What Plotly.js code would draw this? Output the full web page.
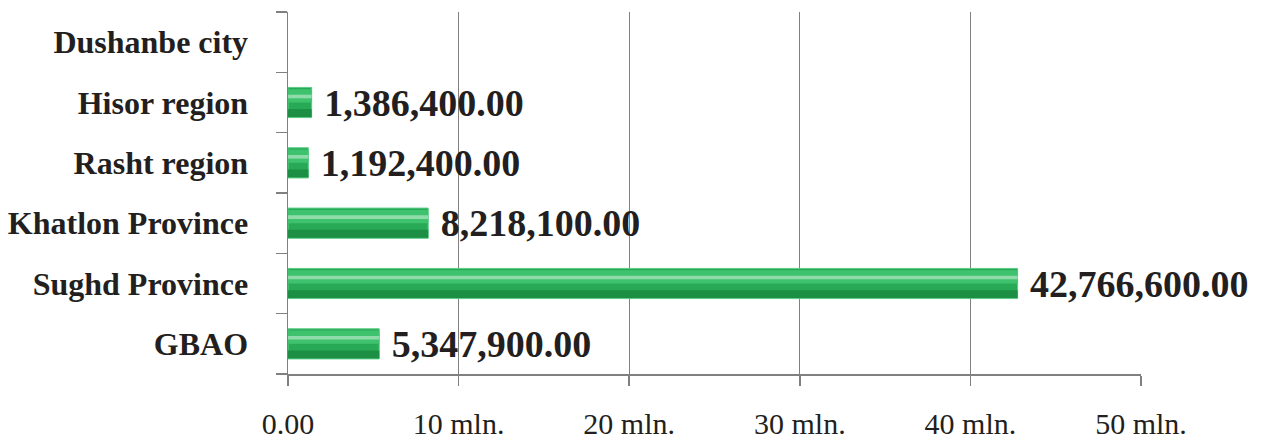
<!DOCTYPE html>
<html>
<head>
<meta charset="utf-8">
<script src="https://cdn.plot.ly/plotly-3.0.1.min.js"></script>
<style>
html,body{margin:0;padding:0;background:#fff;}
#chart{width:1263px;height:439px;}
</style>
</head>
<body>
<div id="chart"></div>
<script>
const categories = ["GBAO", "Sughd Province", "Khatlon Province", "Rasht region", "Hisor region", "Dushanbe city"];
const values = [5347900, 42766600, 8218100, 1192400, 1386400, null];
const tickValues = [0, 10000000, 20000000, 30000000, 40000000, 50000000];
const tickLabels = ["0.00", "10 mln.", "20 mln.", "30 mln.", "40 mln.", "50 mln."];

const serif = "Liberation Serif, Times New Roman, serif";

function layer(color, offset, width, withText, lineColor) {
  const t = {
    type: "bar",
    orientation: "h",
    x: values,
    y: categories,
    offset: offset,
    width: width,
    marker: {color: color, line: {color: lineColor || color, width: lineColor ? 1 : 0}},
    hoverinfo: "skip",
    showlegend: false,
    cliponaxis: false
  };
  if (withText) {
    t.texttemplate = "\u00a0%{x:,.2f}";
    t.textposition = "outside";
    t.constraintext = "none";
    t.textfont = {family: serif, size: 38, color: "#231f20", weight: "bold"};
  }
  return t;
}

const data = [
  layer("#28a956", -0.25, 0.5, true, "#5ccd86"),
  layer("#1d8f45", -0.24, 0.13, false),
  layer("#3fc26e", 0.0, 0.22, false),
  layer("#8fdcaa", 0.07, 0.06, false)
];

const layout = {
  width: 1263,
  height: 439,
  margin: {l: 288, r: 122, t: 12, b: 65},
  paper_bgcolor: "#ffffff",
  plot_bgcolor: "#ffffff",
  barmode: "overlay",
  showlegend: false,
  xaxis: {
    range: [0, 50000000],
    tickvals: tickValues,
    ticktext: tickLabels,
    ticks: "outside",
    ticklen: 10,
    tickwidth: 1.5,
    tickcolor: "#808080",
    showline: true,
    linecolor: "#808080",
    linewidth: 1.5,
    showgrid: true,
    gridcolor: "#808080",
    gridwidth: 1.2,
    zeroline: false,
    ticklabelstandoff: 12,
    tickfont: {family: serif, size: 30, color: "#231f20"},
    fixedrange: true
  },
  yaxis: {
    type: "category",
    categoryorder: "array",
    categoryarray: categories,
    tickson: "boundaries",
    ticks: "outside",
    ticklen: 11,
    tickwidth: 1.5,
    tickcolor: "#808080",
    showline: true,
    linecolor: "#808080",
    linewidth: 1.5,
    showgrid: false,
    zeroline: false,
    ticklabelstandoff: 32,
    tickfont: {family: serif, size: 32, color: "#231f20", weight: "bold"},
    fixedrange: true
  }
};

Plotly.newPlot("chart", data, layout, {displayModeBar: false, staticPlot: true});
</script>
</body>
</html>
